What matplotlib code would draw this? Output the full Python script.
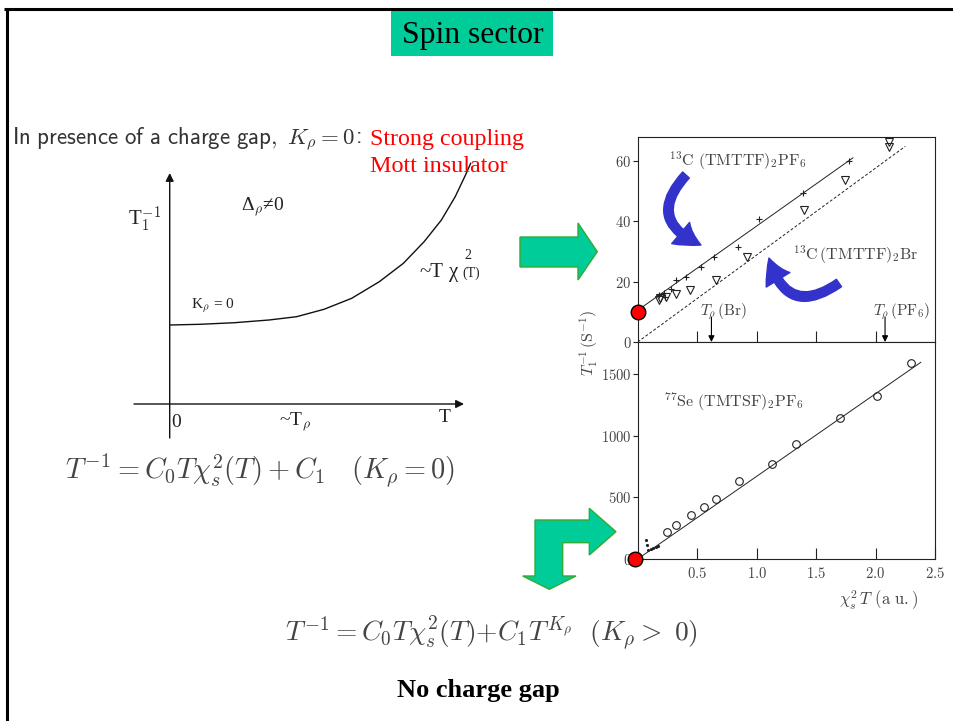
import numpy as np
import matplotlib
matplotlib.use("Agg")
import matplotlib.pyplot as plt
from matplotlib.patches import Polygon, Rectangle, FancyArrowPatch
from matplotlib.ticker import FuncFormatter

plt.rcParams['mathtext.fontset'] = 'cm'
plt.rcParams['font.family'] = ['DejaVu Sans']

# ---------------- data ----------------
# 13C (TMTTF)2PF6 : crosses + fit line
pf6_x = [1.78, 1.39, 1.02, 0.84, 0.64, 0.53, 0.41, 0.32, 0.28, 0.22, 0.18, 0.23]
pf6_y = [60, 49.5, 40.8, 31.5, 28.3, 25, 21.5, 20.6, 17.6, 16.1, 15.5, 15]
pf6_fit_x = [0, 1.81]
pf6_fit_y = [10.5, 61]
# 13C (TMTTF)2Br : open triangles + dashed fit line
br_x = [2.11, 2.11, 1.74, 1.40, 0.92, 0.66, 0.44, 0.32, 0.24, 0.19, 0.18]
br_y = [66.3, 64.5, 53.7, 43.7, 28.1, 20.6, 17.2, 15.8, 15, 14.5, 13.9]
br_fit_x = [0, 2.25]
br_fit_y = [0, 64.8]
# T_rho positions (Br, PF6)
trho_x = [0.62, 2.08]
trho_lab = [r"$T_\rho\,\mathrm{(Br)}$", r"$T_\rho\,\mathrm{(PF_6)}$"]
# 77Se (TMTSF)2PF6 : open circles + fit line
se_x = [2.30, 2.01, 1.70, 1.33, 1.13, 0.85, 0.66, 0.56, 0.45, 0.32, 0.25]
se_y = [1590, 1323, 1141, 929, 772, 630, 486, 421, 359, 272, 217]
se_small_x = [0.066, 0.074, 0.09, 0.11, 0.13, 0.15, 0.17]
se_small_y = [155, 114, 75, 82, 90, 98, 106]
se_fit_x = [0, 2.38]
se_fit_y = [0, 1595]
# intercepts (red dots)
c1_upper = 10
c1_lower = 0
# tick values
up_yticks = [0, 20, 40, 60]
lo_yticks = [0, 500, 1000, 1500]
xticks = [0.5, 1.0, 1.5, 2.0, 2.5]
# schematic curve T1^-1 vs T (arbitrary units)
schem_T = [0, 30.3, 64.8, 99.3, 126.9, 154.3, 182, 209.6, 233.7, 254.4, 271.7, 285.5, 295.8, 301]
schem_R = [79, 79.7, 81.3, 84, 87.3, 94.7, 105.7, 122.3, 140.7, 162.3, 184, 207.3, 229, 240.7]

# ---------------- figure ----------------
W, H = 954, 721
fig = plt.figure(figsize=(W / 100, H / 100), dpi=100)


def fbox(l, t, r, b):
    return [l / W, 1 - b / H, (r - l) / W, (b - t) / H]


ink = '#222222'
grey = '#444444'

ax1 = fig.add_axes(fbox(637.7, 136.7, 935, 342))
ax2 = fig.add_axes(fbox(637.7, 342, 935, 559))

for ax in (ax1, ax2):
    for s in ax.spines.values():
        s.set_linewidth(0.8)
        s.set_color(ink)
    ax.set_xlim(0, 2.5)
    ax.tick_params(axis='y', direction='out', length=3.5, width=0.8, labelsize=10.5,
                   labelcolor=grey, pad=1, color=ink)
    ax.tick_params(axis='x', direction='in', length=8, width=0.8, labelsize=10.5,
                   labelcolor=grey, pad=5, color=ink)
    ax.yaxis.set_major_formatter(FuncFormatter(lambda v, p: f"${v:g}$"))

# upper panel
ax1.plot(pf6_fit_x, pf6_fit_y, '-', color=ink, lw=0.7)
ax1.plot(br_fit_x, br_fit_y, '--', color=ink, lw=0.7, dashes=(3, 2))
ax1.plot(pf6_x, pf6_y, '+', color=ink, ms=5, mew=0.8)
ax1.plot(br_x, br_y, 'v', mfc='none', mec=ink, ms=5.5, mew=0.8)
ax1.set_ylim(0, 68)
ax1.set_yticks(up_yticks)
ax1.set_xticks(xticks[:-1])
ax1.set_xticklabels([])
for xv, lab in zip(trho_x, trho_lab):
    ax1.annotate('', xy=(xv, 0), xytext=(xv, 8.2),
                 arrowprops=dict(arrowstyle='-|>', color='k', lw=0.8, mutation_scale=9,
                                 shrinkA=0, shrinkB=0))
    ax1.text(xv - 0.1, 8.9, lab, fontsize=11, color=grey, ha='left', va='baseline')
ax1.text(0.84, 60, r"$^{13}\mathrm{C}\ (\mathrm{TMTTF})_2\mathrm{PF}_6$", fontsize=11.5,
         color=grey, ha='center', va='center')
ax1.text(1.83, 29, r"$^{13}\mathrm{C}\,(\mathrm{TMTTF})_2\mathrm{Br}$", fontsize=11.5,
         color=grey, ha='center', va='center')
ax1.plot([0], [c1_upper], 'o', ms=10.5, mfc='red', mec='black', mew=1, clip_on=False, zorder=20)

# lower panel
ax2.plot(se_fit_x, se_fit_y, '-', color=ink, lw=0.7)
ax2.plot(se_x, se_y, 'o', mfc='none', mec=ink, ms=5.5, mew=0.8)
ax2.plot(se_small_x, se_small_y, '.', color=ink, ms=2.5)
ax2.set_ylim(0, 1760)
ax2.set_yticks(lo_yticks)
ax2.set_xticks(xticks)
ax2.xaxis.set_major_formatter(FuncFormatter(lambda v, p: f"${v:.1f}$"))
ax2.text(0.81, 1271, r"$^{77}\mathrm{Se}\ (\mathrm{TMTSF})_2\mathrm{PF}_6$", fontsize=11.5,
         color=grey, ha='center', va='center')
ax2.plot([-0.02], [c1_lower], 'o', ms=10.5, mfc='red', mec='black', mew=1, clip_on=False, zorder=20)

# schematic
sch = fig.add_axes(fbox(100, 150, 520, 450))
sch.set_xlim(100 - 169.7, 520 - 169.7)
sch.set_ylim(404 - 450, 404 - 150)
sch.axis('off')
sch.plot(schem_T, schem_R, color='#111111', lw=1)
sch.annotate('', xy=(0, 231), xytext=(0, -34),
             arrowprops=dict(arrowstyle='-|>', lw=1, color='#111111', mutation_scale=12,
                             shrinkA=0, shrinkB=0))
sch.annotate('', xy=(294.3, 0), xytext=(-35.7, 0),
             arrowprops=dict(arrowstyle='-|>', lw=1, color='#111111', mutation_scale=12,
                             shrinkA=0, shrinkB=0))

# overlay in pixel coordinates
ov = fig.add_axes([0, 0, 1, 1], zorder=10)
ov.set_xlim(0, W)
ov.set_ylim(H, 0)
ov.axis('off')
ov.patch.set_visible(False)

# slide frame
ov.plot([4, W], [9, 9], color='black', lw=2.2, solid_capstyle='butt')
ov.plot([7, 7], [9, H], color='black', lw=2.2, solid_capstyle='butt')

# title box
ov.add_patch(Rectangle((391, 10), 161.7, 45.7, fc='#00cc99', ec='none'))
t_title = ov.text(472.5, 43.3, "Spin sector", family='Liberation Serif', fontsize=23,
                  ha='center', va='baseline', color='black')

t_top = ov.text(12, 143.3, r"$\mathsf{In\ presence\ of\ a\ charge\ gap,}\ K_\rho = 0$",
                ha='left', va='baseline', color='#333333', fontsize=15)
t_r1 = ov.text(370, 145, "Strong coupling", family='Liberation Serif', color='red', fontsize=17.5,
               ha='left', va='baseline')
t_r2 = ov.text(370, 171.7, "Mott insulator", family='Liberation Serif', color='red', fontsize=17.5,
               ha='left', va='baseline')

t_f1 = ov.text(65.4, 479, r"$T^{-1} = C_0 T\chi_s^2(T) + C_1 \quad (K_\rho = 0)$",
               ha='left', va='baseline', color=grey, fontsize=17)
t_f2 = ov.text(285, 641, r"$T^{-1} = C_0 T\chi_s^2(T){+}C_1 T^{K_\rho}\ \ (K_\rho >\ 0)$",
               ha='left', va='baseline', color=grey, fontsize=17)
t_nc = ov.text(478, 697, "No charge gap", family='Liberation Serif', fontweight='bold',
               ha='center', va='baseline', fontsize=18, color='black')

# schematic labels
sf = dict(family='Liberation Serif', color='#222222', va='baseline')
ov.text(127.6, 225, r"T$_1^{-1}$", fontsize=15, ha='left', **sf)
ov.text(241, 210, r"Δ$_\rho$≠0", fontsize=14, ha='left', **sf)
ov.text(191, 308, r"K$_\rho$ = 0", fontsize=11, ha='left', **sf)
ov.text(419, 276.7, "~T", fontsize=15, ha='left', **sf)
ov.text(449, 276.7, "χ", fontsize=15, ha='left', **sf)
ov.text(464, 259, "2", fontsize=10, ha='left', **sf)
ov.text(462, 277, "(T)", fontsize=10, ha='left', **sf)
ov.text(176.5, 426.7, "0", fontsize=14, ha='center', **sf)
ov.text(279, 425, r"~T$_\rho$", fontsize=14, ha='left', **sf)
ov.text(444.5, 421.7, "T", fontsize=14, ha='center', **sf)

# axis labels of the data panel
ov.text(589, 343, r"$T_1^{-1}\,(\mathrm{S}^{-1})$", rotation=90, ha='center', va='center',
        fontsize=11.5, color=grey)
ov.text(878, 600, r"$\chi_s^2\,T\ (\mathrm{a\ u.})$", ha='center', va='center', fontsize=12,
        color=grey)

# green arrows
gfc, gec = '#00cc99', '#33aa33'
ov.add_patch(Polygon([(520, 237), (578, 237), (578, 223), (597.3, 251.7), (578, 280),
                      (578, 267), (520, 267)], closed=True, fc=gfc, ec=gec, lw=1))
ov.add_patch(Polygon([(616, 531.7), (589.3, 508.3), (589.3, 520), (535, 520), (535, 576),
                      (522.7, 576), (549.3, 589.3), (576, 576), (562.7, 576), (562.7, 542.7),
                      (589.3, 542.7), (589.3, 555)], closed=True, fc=gfc, ec=gec, lw=1))

# blue curved arrows
blue = '#3333cc'
style = "Simple,tail_width=6.5,head_width=20,head_length=17"
ov.add_patch(FancyArrowPatch((686, 175), (701, 245), connectionstyle="arc3,rad=0.7",
                             arrowstyle=style, color=blue, shrinkA=0, shrinkB=0))
ov.add_patch(FancyArrowPatch((839, 283), (769, 258), connectionstyle="arc3,rad=-0.7",
                             arrowstyle=style, color=blue, shrinkA=0, shrinkB=0))

# fit text widths to reference
r = fig.canvas.get_renderer()


def fit(t, target):
    for _ in range(3):
        w = t.get_window_extent(r).width
        t.set_fontsize(t.get_fontsize() * target / w)


fit(t_title, 141.6)
fit(t_top, 343)
fit(t_r1, 154)
fit(t_r2, 138)
fit(t_f1, 390)
fit(t_f2, 413)
fit(t_nc, 163)

# colon right after the sans sentence, in the Computer Modern sans font
bb = t_top.get_window_extent(r)
x_end = ov.transData.inverted().transform((bb.x1, bb.y0))[0]
ov.text(x_end + 1.0, 143.3, ":", ha='left', va='baseline', color='#333333',
        fontsize=t_top.get_fontsize(), family=['cmss10', 'DejaVu Sans'])

fig.savefig("out.png", dpi=100)
